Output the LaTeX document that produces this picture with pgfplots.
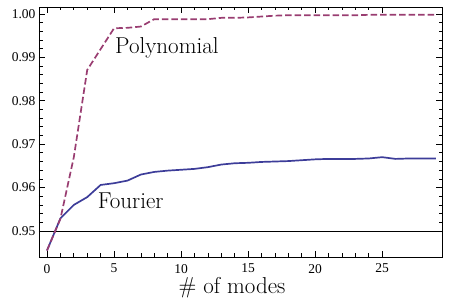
\documentclass[border=0pt]{standalone}
\usepackage{fontspec}
\usepackage{pgfplots}
\pgfplotsset{compat=1.18}
\newfontfamily\tmfont{Liberation Serif}
\definecolor{fourier}{rgb}{0.24,0.24,0.6}
\definecolor{poly}{rgb}{0.6,0.24,0.442}
\begin{document}
\begin{tikzpicture}
\useasboundingbox (0,0) rectangle (453pt,302pt);
\begin{axis}[
  at={(39pt,45pt)}, anchor=south west,
  scale only axis, width=403pt, height=250pt,
  xmin=-0.597, xmax=29.46, ymin=0.944, ymax=1.0016,
  xtick={0,5,10,15,20,25}, ytick={0.95,0.96,0.97,0.98,0.99,1.00},
  minor x tick num=4, minor y tick num=4,
  tick align=inside, xtick pos=both, ytick pos=both,
  xticklabel pos=lower, yticklabel pos=left,
  major tick length=6pt, minor tick length=3.5pt,
  every tick/.style={black, line width=0.7pt},
  axis line style={line width=0.9pt},
  /pgf/number format/assume math mode=true,
  ticklabel style={font=\fontsize{13.5}{16}\tmfont},
  xticklabel style={yshift=-3.5pt},
  yticklabel style={/pgf/number format/.cd, fixed, fixed zerofill, precision=2},
  scaled y ticks=false,
  xlabel={\fontsize{23}{28}\selectfont \# of modes},
  xlabel style={at={(rel axis cs:0.479,0)}, anchor=base, yshift=-37pt},
]
\addplot[black, line width=0.8pt] coordinates {(-0.6,0.95) (29.5,0.95)};
\addplot[fourier, line width=1.7pt] coordinates {
(0,0.9455) (1,0.9529) (2,0.9560) (3,0.9578) (4,0.9606) (5,0.9610)
(6,0.9616) (7,0.9630) (8,0.9636) (9,0.9639) (10,0.9641) (11,0.9643)
(12,0.9647) (13,0.9653) (14,0.9656) (15,0.9657) (16,0.9659) (17,0.9660)
(18,0.9661) (19,0.9663) (20,0.9665) (21,0.9666) (22,0.9666) (23,0.9666)
(24,0.9667) (25,0.9670) (26,0.9666) (27,0.9667) (28,0.9667) (29,0.9667)};
\addplot[poly, line width=1.7pt, dash pattern=on 6.5pt off 3pt] coordinates {
(0,0.9455) (1,0.9528) (2,0.9670) (3,0.9871) (4,0.9919) (5,0.9967)
(6,0.9968) (7,0.9971) (8,0.9988) (9,0.9988) (10,0.9988) (11,0.9988)
(12,0.9988) (13,0.9991) (14,0.9991) (15,0.9992) (16,0.9994) (17,0.9996)
(18,0.9997) (19,0.9997) (20,0.9997) (21,0.9997) (22,0.9997) (23,0.9997)
(24,0.9998) (25,0.9998) (26,0.9998) (27,0.9998) (28,0.9998) (29,0.9998)};
\node[anchor=base west, inner sep=0pt] at (axis cs:5.07,0.9910) {\fontsize{23}{28}\selectfont Polynomial};
\node[anchor=base west, inner sep=0pt] at (axis cs:3.78,0.9552) {\fontsize{23}{28}\selectfont Fourier};
\end{axis}
\end{tikzpicture}
\end{document}
